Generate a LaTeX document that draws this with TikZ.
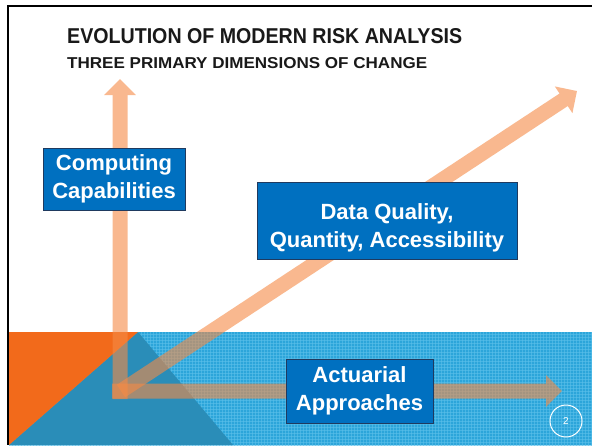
\documentclass[tikz,border=0pt]{standalone}
\usepackage{fontspec}
\setmainfont{Liberation Sans}
\usetikzlibrary{arrows.meta,patterns}

\definecolor{bandblue}{HTML}{2CA5DA}
\definecolor{bandgrid}{HTML}{5CC0EA}
\definecolor{wedgeblue}{HTML}{2A8DB8}
\definecolor{wedgeorange}{HTML}{F26A1B}
\definecolor{boxblue}{HTML}{0070C0}
\definecolor{boxedge}{HTML}{1F3A5F}
\definecolor{axisorange}{HTML}{F58A45}

\begin{document}
\begin{tikzpicture}[x=1pt,y=-1pt,
  labelbox/.style={draw=boxedge, line width=0.8pt, fill=boxblue, inner sep=0pt},
  boxtext/.style={text=white, align=center, inner sep=0pt,
    font=\fontsize{22}{28}\selectfont\bfseries},
  axisarrow/.style={line width=15pt, draw=axisorange,
    -{Triangle[length=16pt,width=31pt]}},
  frameline/.style={line width=2pt, draw=black},
  heading/.style={anchor=base west, inner sep=0pt, text=black!90},
]
\useasboundingbox (0,0) rectangle (592,445);
\fill[white] (0,0) rectangle (592,445);

% patterned blue band along the bottom
\fill[bandblue] (9,332) rectangle (592,445);
\fill[pattern=grid, pattern color=bandgrid, opacity=0.6] (9,332) rectangle (592,445);
% darker wedge and orange corner triangle
\fill[wedgeblue] (138,332) -- (233,445) -- (9,445) -- cycle;
\fill[wedgeorange] (9,332) -- (138,332) -- (9,445) -- cycle;

% frame
\draw[frameline] (7,6) -- (592,6);
\draw[frameline] (8,5) -- (8,445);

% titles
\node[heading] (title) at (67,43)
  {\resizebox{395pt}{15pt}{\fontsize{20}{22}\selectfont\bfseries EVOLUTION OF MODERN RISK ANALYSIS}};
\node[heading] (subtitle) at (67,68)
  {\resizebox{360pt}{11pt}{\fontsize{15}{18}\selectfont\bfseries THREE PRIMARY DIMENSIONS OF CHANGE}};

% the three axes
\coordinate (vstart) at (120,399);
\coordinate (vtip) at (120,79);
\coordinate (hstart) at (112,391);
\coordinate (htip) at (562,391);
\coordinate (dstart) at (121,391);
\coordinate (dtip) at (577,91);
\begin{scope}[transparency group, opacity=0.6]
  \draw[axisarrow] (vstart) -- (vtip);
\end{scope}
\begin{scope}[transparency group, opacity=0.6]
  \draw[axisarrow] (hstart) -- (htip);
\end{scope}
\begin{scope}[transparency group, opacity=0.6]
  \draw[axisarrow] (dstart) -- (dtip);
\end{scope}

% axis labels
\node[labelbox, minimum width=142, minimum height=62] (comp) at (114,179) {};
\node[boxtext] (comptext) at (comp.center) {Computing\\Capabilities};

\node[labelbox, minimum width=260, minimum height=77] (data) at (387,220.5) {};
\node[boxtext] (datatext) at ([yshift=-7pt]data.center) {Data Quality,\\Quantity, Accessibility};

\node[labelbox, minimum width=147, minimum height=64] (act) at (359.5,391) {};
\node[boxtext] (acttext) at (act.center) {Actuarial\\Approaches};

% page number
\node[circle, draw=white, line width=1pt, minimum size=32, inner sep=0pt,
  text=white, font=\fontsize{10}{11}\selectfont] (page) at (566,421) {2};
\end{tikzpicture}
\end{document}
